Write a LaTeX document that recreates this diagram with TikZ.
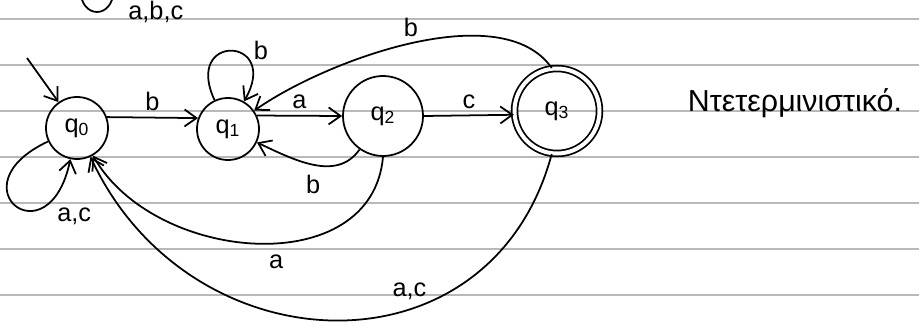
\documentclass[tikz,border=0pt]{standalone}
\usepackage{fontspec}
\setmainfont{Liberation Sans}
\usetikzlibrary{arrows.meta}

\begin{document}
\begin{tikzpicture}[x=0.2mm,y=0.2mm,
  st/.style={draw, circle, line width=1pt, inner sep=0pt, font=\Large},
  lbl/.style={font=\Large},
  edge/.style={line width=1pt, -{Straight Barb[length=2.4mm,width=3.4mm]}},
  ruled/.style={gray!55, line width=0.6pt}]
\clip (0,0) rectangle (919,328);
% ruled paper
\foreach \y in {309,263,217,171,125,79,33}
  \draw[ruled] (0,\y) -- (919,\y);
% cut off loop of the row above
\draw[line width=1pt] (97,335) ellipse (16 and 19);
\node[lbl, anchor=north west, inner sep=0pt] (abc) at (128,327) {a,b,c};
% states
\node[st, minimum size=12.4mm] (q0) at (77,200) {q\textsubscript{0}};
\node[st, minimum size=12.4mm] (q1) at (228,199) {q\textsubscript{1}};
\node[st, minimum size=16mm] (q2) at (383,212) {q\textsubscript{2}};
\node[st, minimum size=17mm, double, double distance=0.8mm] (q3) at (557,217) {q\textsubscript{3}};
\coordinate (init) at (27,270);
% transitions
\draw[edge] (init) -- (q0);
\draw[edge] (q0.20) -- node[lbl, above] {b} (q1.160);
\draw[edge] (q1) to[out=115, in=60, distance=15mm] node[lbl, pos=0.5, right=9pt] {b} (q1);
\draw[edge] (q1.25) -- node[lbl, above] {a} (q2.180);
\draw[edge] (q2) to[out=235, in=-25] node[lbl, below=2pt] {b} (q1);
\draw[edge] (q2.0) -- node[lbl, above] {c} (q3.185);
\draw[edge] (q3.97) to[out=125, in=35, looseness=0.75] node[lbl, above] {b} (q1.35);
\draw[edge] (q2.-90) to[out=-95, in=-60, looseness=1.1] node[lbl, pos=0.45, below=3pt] {a} (q0.-60);
\draw[edge] (q3.-97) to[out=-105, in=-65, looseness=1.3] node[lbl, pos=0.33, above left, inner sep=1pt] {a,c} (q0.-65);
\draw[edge] (q0) to[out=205, in=258, distance=21mm] node[lbl, pos=0.8, below right] {a,c} (q0);
% note
\node[font=\LARGE] (note) at (795,225) {Ντετερμινιστικό.};
\end{tikzpicture}
\end{document}
